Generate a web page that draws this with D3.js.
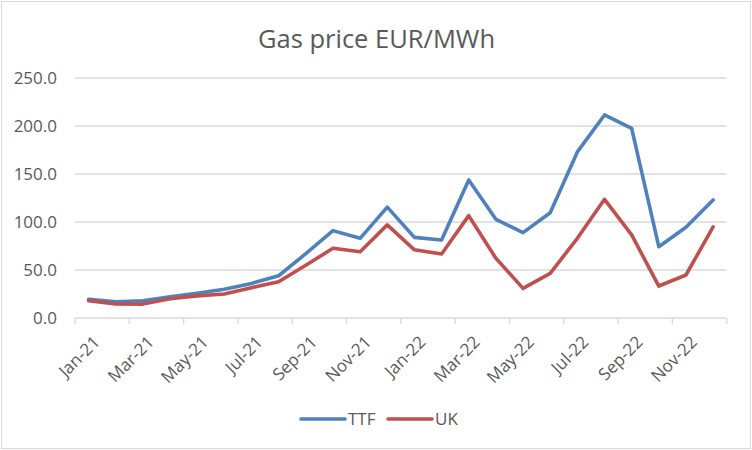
<!DOCTYPE html>
<html>
<head>
<meta charset="utf-8">
<script src="https://cdn.jsdelivr.net/npm/d3@7"></script>
<style>
  body { margin: 0; background: #fff; }
  svg { display: block; font-family: "Open Sans", sans-serif; }
</style>
</head>
<body>
<svg id="canvas"></svg>
<script>
const months = ["Jan-21", "Feb-21", "Mar-21", "Apr-21", "May-21", "Jun-21", "Jul-21", "Aug-21", "Sep-21", "Oct-21", "Nov-21", "Dec-21",
    "Jan-22", "Feb-22", "Mar-22", "Apr-22", "May-22", "Jun-22", "Jul-22", "Aug-22", "Sep-22", "Oct-22", "Nov-22", "Dec-22"];
const ttf = [19.5, 17, 18, 22, 25.7, 30, 36, 44, 67, 91, 83, 115.5, 84, 81.3, 143.8, 102.8, 88.9, 109.7, 173, 211.5, 197.6, 74.3, 94.5, 123];
const uk = [18, 14.6, 14.5, 20, 23, 25, 31.6, 37.8, 55, 72.6, 69, 97, 71, 66.7, 106.6, 62.2, 30.9, 46.5, 83, 123.6, 86.5, 33.3, 44.8, 95];
const yTicks = [0, 50, 100, 150, 200, 250];
const seriesNames = ["TTF", "UK"];
const colors = ["#4F81BD", "#C0504D"];

const width = 752;
const height = 450;
const svg = d3.select("#canvas").attr("width", width).attr("height", height);

const margin = { top: 78, right: 25.3, bottom: 132, left: 75 };
const innerWidth = width - margin.left - margin.right;
const innerHeight = height - margin.top - margin.bottom;
const textColor = "#595959";
const gridColor = "#D9D9D9";

// chart border
svg.append("rect")
    .attr("x", 1.5).attr("y", 1.5)
    .attr("width", width - 3).attr("height", height - 3)
    .attr("fill", "#fff").attr("stroke", gridColor).attr("stroke-width", 1);

svg.append("text")
    .attr("x", width / 2 + 0.5).attr("y", 48)
    .attr("text-anchor", "middle")
    .attr("fill", textColor)
    .style("font-size", "25.5px")
    .text("Gas price EUR/MWh");

const g = svg.append("g").attr("transform", `translate(${margin.left}, ${margin.top})`);

const xScale = d3.scaleBand().domain(months).range([0, innerWidth]).padding(0);
const yScale = d3.scaleLinear().domain([0, 250]).range([innerHeight, 0]);

// gridlines
g.append("g").selectAll("line")
    .data(yTicks.filter(d => d > 0))
    .join("line")
    .attr("x1", 0).attr("x2", innerWidth)
    .attr("y1", d => yScale(d)).attr("y2", d => yScale(d))
    .attr("stroke", gridColor).attr("stroke-width", 1.3);

// y axis labels
g.append("g")
    .call(d3.axisLeft(yScale).tickValues(yTicks).tickFormat(d3.format(".1f")).tickSize(0).tickPadding(18))
    .call(a => a.select(".domain").remove())
    .call(a => a.selectAll("text").attr("fill", textColor).style("font-size", "17px").style("font-family", "Open Sans"));

// x axis line and ticks between categories
const xAxisG = g.append("g").attr("transform", `translate(0, ${innerHeight})`);
xAxisG.append("line")
    .attr("x1", 0).attr("x2", innerWidth)
    .attr("stroke", gridColor).attr("stroke-width", 1.3);
const tickPos = months.filter((d, i) => i % 2 === 0).map(d => xScale(d)).concat([innerWidth]);
xAxisG.selectAll(".tickmark")
    .data(tickPos)
    .join("line")
    .attr("class", "tickmark")
    .attr("x1", d => d).attr("x2", d => d)
    .attr("y1", 0).attr("y2", 6)
    .attr("stroke", gridColor).attr("stroke-width", 1.3);

xAxisG.append("g")
    .call(d3.axisBottom(xScale).tickValues(months.filter((d, i) => i % 2 === 0)).tickSize(0))
    .call(a => a.select(".domain").remove())
    .call(a => a.selectAll("text")
        .attr("fill", textColor)
        .style("font-size", "17px")
        .style("font-family", "Open Sans")
        .attr("text-anchor", "end")
        .attr("dy", "0.35em")
        .attr("y", 0)
        .attr("transform", "translate(8, 21) rotate(-45)"));

// lines
const line = d3.line()
    .x((d, i) => xScale(months[i]) + xScale.bandwidth() / 2)
    .y(d => yScale(d));

[ttf, uk].forEach((s, k) => {
    g.append("path")
        .datum(s)
        .attr("d", line)
        .attr("fill", "none")
        .attr("stroke", colors[k])
        .attr("stroke-width", 3.6)
        .attr("stroke-linejoin", "round")
        .attr("stroke-linecap", "round");
});

// legend
const legendX = [301, 388];
const legend = svg.append("g").attr("transform", "translate(0, 419)");
seriesNames.forEach((name, k) => {
    legend.append("line")
        .attr("x1", legendX[k]).attr("x2", legendX[k] + 44)
        .attr("stroke", colors[k]).attr("stroke-width", 3.6)
        .attr("stroke-linecap", "round");
    legend.append("text")
        .attr("x", legendX[k] + 47).attr("y", 0)
        .attr("dy", "0.35em")
        .attr("fill", textColor)
        .style("font-size", "17px")
        .text(name);
});
</script>
</body>
</html>
